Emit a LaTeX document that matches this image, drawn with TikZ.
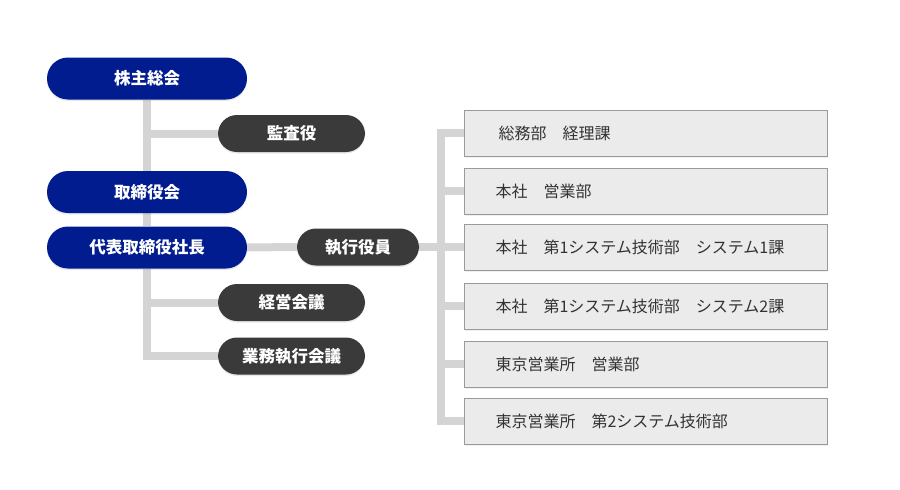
\documentclass[tikz,border=0pt]{standalone}
\usepackage{fontspec}
\newfontfamily\jpfont{Noto Sans CJK JP}
\usetikzlibrary{positioning, shadows, backgrounds}
\definecolor{navyblue}{HTML}{001C8F}
\definecolor{darkpill}{HTML}{3A3A3A}
\definecolor{linegray}{HTML}{D4D4D4}
\definecolor{boxfill}{HTML}{EBEBEB}
\definecolor{boxline}{HTML}{9A9A9A}
\definecolor{boxtext}{HTML}{333333}

\begin{document}
\begin{tikzpicture}[x=1pt, y=-1pt,
  board/.style={fill=navyblue, text=white, rounded corners=21pt,
    minimum width=200pt, minimum height=42pt, inner sep=0pt,
    font=\jpfont\bfseries\fontsize{16.5}{18}\selectfont,
    drop shadow={opacity=0.18, shadow xshift=0pt, shadow yshift=-1.5pt}},
  council/.style={fill=darkpill, text=white, rounded corners=19pt,
    minimum width=147pt, minimum height=37pt, inner sep=0pt,
    font=\jpfont\bfseries\fontsize{16.5}{18}\selectfont,
    drop shadow={opacity=0.18, shadow xshift=0pt, shadow yshift=-1.5pt}},
  unit/.style={draw=boxline, line width=1pt, fill=boxfill, text=boxtext,
    minimum height=46pt, text width=301pt, inner xsep=31pt, inner ysep=0pt,
    align=left, anchor=west,
    font=\jpfont\fontsize{16}{18}\selectfont,
    drop shadow={opacity=0.12, shadow xshift=0pt, shadow yshift=-1.5pt}},
  conn/.style={draw=linegray, line width=8pt, line join=miter}]

  \useasboundingbox (0,0) rectangle (900,490);

  % Governing bodies
  \node[board] (kabu) at (147,78.5) {株主総会};
  \node[board] (tori) at (147,192) {取締役会};
  \node[board] (dai) at (147,247.5) {代表取締役社長};

  % Councils
  \node[council] (kansa) at (291.5,133.5) {監査役};
  \node[council, minimum width=122pt] (shikko) at (358,247) {執行役員};
  \node[council] (keiei) at (291.5,302.5) {経営会議};
  \node[council] (gyomu) at (291.5,356) {業務執行会議};

  % Departments
  \node[unit] (b1) at (464,133) {\hspace{3pt}総務部　経理課};
  \node[unit] (b2) at (464,191) {本社　営業部};
  \node[unit] (b3) at (464,247) {本社　第1システム技術部　システム1課};
  \node[unit] (b4) at (464,306) {本社　第1システム技術部　システム2課};
  \node[unit] (b5) at (464,364) {東京営業所　営業部};
  \node[unit] (b6) at (464,421) {東京営業所　第2システム技術部};

  \coordinate (bus) at (441,247);

  % Connectors
  \begin{pgfonlayer}{background}
    \draw[conn] (kabu.south) -- (tori.north);
    \draw[conn] (tori.south) -- (dai.north);
    \draw[conn] (kansa.west) -- (kansa.west -| kabu.south);
    \draw[conn] (dai.south) |- (gyomu.west);
    \draw[conn] (keiei.west) -- (keiei.west -| dai.south);
    \draw[conn] (dai.east) -- (shikko.west);
    \draw[conn] (shikko.east) -- (bus);
    \draw[conn] (b1.west) -| (b6.west -| bus) -- (b6.west);
    \foreach \b in {b2,b3,b4,b5}
      \draw[conn] (\b.west) -- (\b.west -| bus);
  \end{pgfonlayer}
\end{tikzpicture}
\end{document}
